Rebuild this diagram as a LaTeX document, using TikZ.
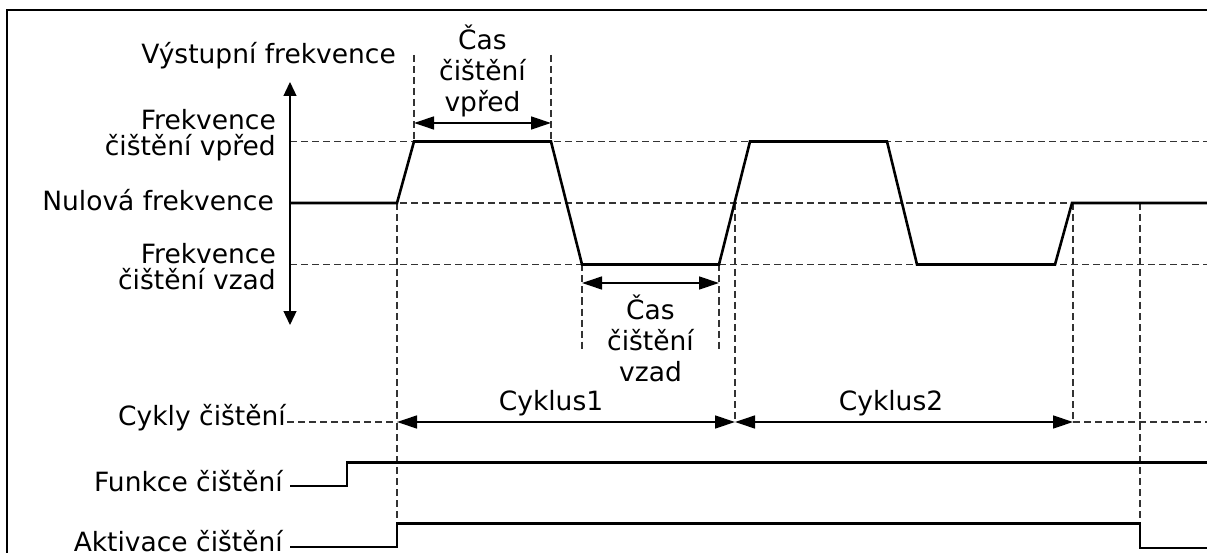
\documentclass[tikz,border=0pt]{standalone}
\usepackage{fontspec}
\setmainfont{DejaVu Sans}
\usetikzlibrary{arrows.meta}
\begin{document}
\begin{tikzpicture}[x=1pt,y=-1pt,
  lbl/.style={inner sep=0pt,font=\fontsize{26.5}{26}\selectfont},
  lbltwo/.style={inner sep=0pt,font=\fontsize{26.5}{31}\selectfont,align=center},
  wave/.style={line width=2.6pt,line join=miter},
  thinline/.style={line width=1.3pt},
  dline/.style={line width=1.3pt,draw=black!80,dash pattern=on 7pt off 4pt},
  tarrow/.style={line width=1.3pt,{Triangle[length=20pt,width=13pt]}-{Triangle[length=20pt,width=13pt]}},
  axarrow/.style={line width=1.3pt,{Triangle[length=14pt,width=13pt]}-{Triangle[length=14pt,width=13pt]}}
]
\fill[white] (0,0) rectangle (1207,553);
\useasboundingbox (0,0) rectangle (1207,553);

% frame
\draw[thinline] (7,553) -- (7,10) -- (1207,10);

% levels
\coordinate (axT) at (290,82);
\coordinate (axB) at (290,325);
\coordinate (fL) at (290,141.5);  \coordinate (fR) at (1207,141.5);
\coordinate (zL) at (290,203);    \coordinate (zR) at (1207,203);
\coordinate (rL) at (290,264.5);  \coordinate (rR) at (1207,264.5);

% waveform points
\coordinate (w1) at (397,203);
\coordinate (w2) at (414,141.5);
\coordinate (w3) at (551,141.5);
\coordinate (w4) at (582,264.5);
\coordinate (w5) at (719,264.5);
\coordinate (w6) at (750,141.5);
\coordinate (w7) at (887,141.5);
\coordinate (w8) at (917,264.5);
\coordinate (w9) at (1055,264.5);
\coordinate (w10) at (1072,203);

% dashed reference lines
\draw[dline] (fL) -- (fR);
\draw[dline] (zL) -- (zR);
\draw[dline] (rL) -- (rR);

% vertical dashed guides
\coordinate (c0) at (397,422);
\coordinate (c1) at (735,422);
\coordinate (c2) at (1073,422);
\coordinate (cE) at (1207,422);
\coordinate (cS) at (287,422);
\coordinate (a1) at (397,523.5);
\coordinate (a2) at (1140,523.5);
\coordinate (a3) at (1140,548);
\coordinate (aE) at (1207,548);
\coordinate (vfT1) at (414,55);
\coordinate (vfT2) at (551,55);
\coordinate (vrB1) at (582,352);
\coordinate (vrB2) at (719,352);
\coordinate (z1) at (735,203);
\coordinate (z2) at (1073,203);
\coordinate (z3) at (1140,203);

\draw[dline] (w1) -- (a1);
\draw[dline] (vfT1) -- (w2);
\draw[dline] (vfT2) -- (w3);
\draw[dline] (w4) -- (vrB1);
\draw[dline] (w5) -- (vrB2);
\draw[dline] (z1) -- (c1);
\draw[dline] (z2) -- (c2);
\draw[dline] (z3) -- (a2);
\draw[dline] (cS) -- (c0);
\draw[dline] (c2) -- (cE);

% axis
\draw[axarrow] (axB) -- (axT);

% waveform
\draw[wave] (zL) -- (w1) -- (w2) -- (w3) -- (w4) -- (w5) -- (w6) -- (w7) -- (w8) -- (w9) -- (w10) -- (zR);

% time arrows
\coordinate (t1a) at (414,123); \coordinate (t1b) at (551,123);
\coordinate (t2a) at (582,283); \coordinate (t2b) at (719,283);
\draw[tarrow] (t1a) -- (t1b);
\draw[tarrow] (t2a) -- (t2b);
\draw[tarrow] (c0) -- (c1);
\draw[tarrow] (c1) -- (c2);

% Funkce / Aktivace
\coordinate (f0) at (290,486); \coordinate (f1) at (347,486);
\coordinate (f2) at (347,462.5); \coordinate (fE) at (1207,462.5);
\coordinate (a0) at (290,547); \coordinate (a0b) at (397,547);
\draw[wave] (f0) -- (f1) -- (f2) -- (fE);
\draw[wave] (a0) -- (a0b) -- (a1) -- (a2) -- (a3) -- (aE);

% labels (multi-line nodes: base = last line)
\node[lbl,anchor=base east] (tvf) at (396,64) {Výstupní frekvence};
\node[lbl,anchor=base east,align=right] (tfv) at (276,156) {Frekvence\\čištění vpřed};
\node[lbl,anchor=base east] (tnf) at (274,210.7) {Nulová frekvence};
\node[lbl,anchor=base east,align=right] (tfz) at (276,290) {Frekvence\\čištění vzad};
\node[lbltwo,anchor=base] (tcv) at (482.5,112) {Čas\\čištění\\vpřed};
\node[lbltwo,anchor=base] (tcz) at (650.5,381.7) {Čas\\čištění\\vzad};
\node[lbl,anchor=base] (tc1) at (551,410.5) {Cyklus1};
\node[lbl,anchor=base] (tc2) at (891,410.5) {Cyklus2};
\node[lbl,anchor=base east] (tcc) at (286,425.7) {Cykly čištění};
\node[lbl,anchor=base east] (tfc) at (283,491.7) {Funkce čištění};
\node[lbl,anchor=base east] (tac) at (283,551.7) {Aktivace čištění};
\end{tikzpicture}
\end{document}
